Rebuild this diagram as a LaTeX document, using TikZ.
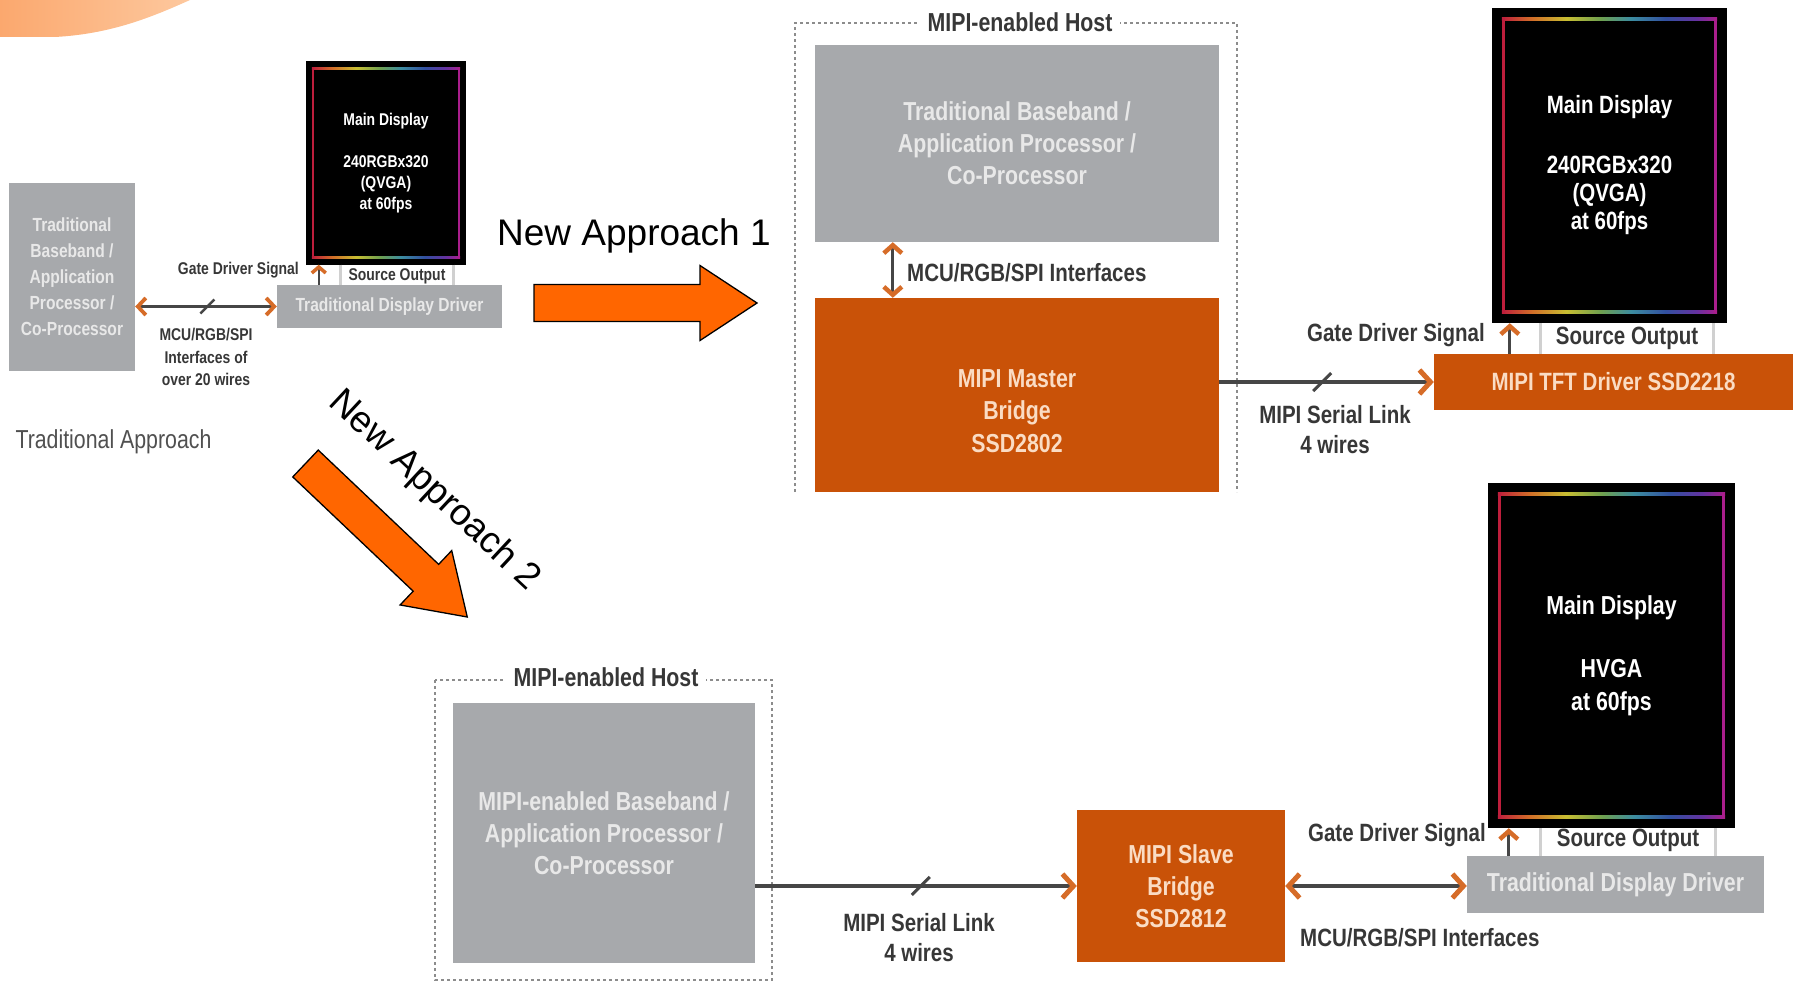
\documentclass[tikz,border=0pt]{standalone}
\usepackage{fontspec}
\setmainfont{Liberation Sans}
\newfontfamily\narrowfont{Liberation Sans}[FakeStretch=0.82]
\usetikzlibrary{arrows.meta}

\definecolor{boxgray}{RGB}{167,169,172}
\definecolor{boxorange}{RGB}{201,82,8}
\definecolor{chevorange}{RGB}{214,108,40}
\definecolor{wiregray}{RGB}{70,70,70}
\definecolor{labelgray}{RGB}{55,55,55}
\definecolor{apprgray}{RGB}{80,80,80}
\definecolor{bigorange}{RGB}{255,102,0}
\definecolor{graytext}{RGB}{232,232,232}
\definecolor{peach}{RGB}{250,220,196}
\definecolor{srcgray}{RGB}{208,208,208}
\definecolor{hostgray}{RGB}{140,140,140}
\definecolor{swooshA}{RGB}{251,168,110}
\definecolor{swooshB}{RGB}{253,200,158}
\definecolor{rbred}{RGB}{190,30,60}
\definecolor{rborange}{RGB}{210,110,40}
\definecolor{rbyellow}{RGB}{200,190,50}
\definecolor{rbgreen}{RGB}{110,160,80}
\definecolor{rbcyan}{RGB}{60,140,160}
\definecolor{rbblue}{RGB}{50,80,160}
\definecolor{rbpurple}{RGB}{100,50,160}
\definecolor{rbmag}{RGB}{170,30,140}

\pgfdeclarehorizontalshading{rainbow}{100bp}{color(0bp)=(rbred); color(25bp)=(rbred); color(32bp)=(rborange); color(40bp)=(rbyellow); color(48bp)=(rbgreen); color(55bp)=(rbcyan); color(63bp)=(rbblue); color(70bp)=(rbpurple); color(75bp)=(rbmag); color(100bp)=(rbmag)}

\tikzset{bigarrow/.pic={
  \draw[fill=bigorange,line width=1.3pt,line join=miter] (0,-18.5) -- (166,-18.5) -- (166,-37.5) -- (223,0) -- (166,37.5) -- (166,18.5) -- (0,18.5) -- cycle;
}}

\begin{document}
\begin{tikzpicture}[x=1pt,y=-1pt,font=\narrowfont\bfseries,
	graybox/.style={rectangle,fill=boxgray,text=graytext,align=center,inner sep=0pt},
	orangebox/.style={rectangle,fill=boxorange,text=peach,align=center,inner sep=0pt},
	display/.style={rectangle,fill=black,text=white,align=center,inner sep=0pt},
	lbl/.style={text=labelgray,align=center,inner sep=1pt},
	hostline/.style={draw=hostgray,line width=1.5pt,dash pattern=on 3pt off 3pt},
	srcbar/.style={draw=srcgray,line width=3pt},
	wire/.style={draw=wiregray,line width=3.5pt},
	thinwire/.style={draw=wiregray,line width=2.5pt},
	slash/.style={draw=wiregray,line width=3pt},
	bigchev/.tip={Straight Barb[length=11pt,width=24pt,line width=5pt,color=chevorange]},
	gatechev/.tip={Straight Barb[length=8pt,width=18pt,line width=4.5pt,color=chevorange]},
	smallchev/.tip={Straight Barb[length=8pt,width=17pt,line width=3.8pt,color=chevorange]},
	tinychev/.tip={Straight Barb[length=6pt,width=14pt,line width=3.5pt,color=chevorange]},
	small/.style={font=\narrowfont\bfseries\fontsize{17}{22.5}\selectfont},
	smallbox/.style={font=\narrowfont\bfseries\fontsize{19}{26}\selectfont},
	big/.style={font=\narrowfont\bfseries\fontsize{25}{30}\selectfont},
	bigbox/.style={font=\narrowfont\bfseries\fontsize{26}{32}\selectfont},
	approach/.style={font=\normalfont\fontsize{37}{40}\selectfont,inner sep=0pt}]

	\useasboundingbox (0,0) rectangle (1796,982);
	\shade[left color=swooshA,right color=swooshB] (0,0) -- (0,37) -- (55,37) .. controls (110,34) and (150,18) .. (190,0) -- cycle;

	% traditional approach
	\node[graybox,smallbox,minimum width=126pt,minimum height=188pt] at (72,277) (tbb) {Traditional\\Baseband /\\Application\\Processor /\\Co-Processor};
	\node[display,font=\narrowfont\bfseries\fontsize{17}{21}\selectfont,minimum width=160pt,minimum height=203pt] at (386,163) (dispa) {Main Display\\[21pt]240RGBx320\\(QVGA)\\at 60fps};
	\node[graybox,smallbox,minimum width=225pt,minimum height=43pt] at (389.5,306.5) (drva) {Traditional Display Driver};
	\node[lbl,small,minimum width=112pt] at (397,276) (srca) {Source Output};
	\node[lbl,small,anchor=east] at (300,270) (gdsa) {Gate Driver Signal};
	\node[lbl,small] at (206,357) (ifla) {MCU/RGB/SPI\\Interfaces of\\over 20 wires};
	\node[text=apprgray,anchor=west,font=\narrowfont\fontsize{26}{30}\selectfont] at (12,442) (trad) {Traditional Approach};

	\draw[srcbar] (srca.west |- dispa.south) -- (srca.west |- drva.north);
	\draw[srcbar] (srca.east |- dispa.south) -- (srca.east |- drva.north);
	\coordinate (gta) at ([xshift=42pt]drva.north west);
	\draw[thinwire,line width=2.5pt,-tinychev] (gta) -- (gta |- dispa.south);
	\draw[thinwire,smallchev-smallchev] (tbb.east |- drva.west) -- coordinate[pos=0.51] (sla) (drva.west);
	\draw[slash,line width=2.5pt] ([shift={(-7,7)}]sla) -- ([shift={(7,-7)}]sla);

	% new approach 1
	\draw[hostline] (795,492) -- (795,23) -- (1237,23) -- (1237,492);
	\node[lbl,fill=white,inner xsep=8pt,bigbox] at (1020,22) (hosta) {MIPI-enabled Host};
	\node[graybox,bigbox,minimum width=404pt,minimum height=197pt] at (1017,143.5) (basea) {Traditional Baseband /\\Application Processor /\\Co-Processor};
	\node[orangebox,minimum width=404pt,minimum height=194pt] at (1017,395) (mstr) {};
	\node[text=peach,align=center,font=\narrowfont\bfseries\fontsize{26}{32.5}\selectfont] at ([shift={(0,16)}]mstr.center) (mstrtxt) {MIPI Master\\Bridge\\SSD2802};
	\node[lbl,big,anchor=west] at (906,273) (iflb) {MCU/RGB/SPI Interfaces};
	\node[display,font=\narrowfont\bfseries\fontsize{25}{28}\selectfont,minimum width=235pt,minimum height=315pt] at (1609.5,165.5) (dispb) {Main Display\\[32pt]240RGBx320\\(QVGA)\\at 60fps};
	\node[orangebox,big,minimum width=359pt,minimum height=56pt] at (1613.5,382) (tft) {MIPI TFT Driver SSD2218};
	\node[lbl,big,minimum width=172pt] at (1627,338) (srcb) {Source Output};
	\node[lbl,big,anchor=east] at (1486,335) (gdsb) {Gate Driver Signal};
	\node[lbl,big] at (1335,430) (serla) {MIPI Serial Link\\4 wires};

	\coordinate (ifb) at ([xshift=78pt]basea.south west);
	\draw[wire,line width=3pt,gatechev-gatechev] (ifb) -- (ifb |- mstr.north);
	\draw[srcbar] (srcb.west |- dispb.south) -- (srcb.west |- tft.north);
	\draw[srcbar] (srcb.east |- dispb.south) -- (srcb.east |- tft.north);
	\coordinate (gtb) at ([xshift=76pt]tft.north west);
	\draw[wire,line width=3pt,-gatechev] (gtb) -- (gtb |- dispb.south);
	\draw[wire,-bigchev] (mstr.east |- tft.west) -- coordinate[pos=0.48] (slb) (tft.west);
	\draw[slash] ([shift={(-9,9)}]slb) -- ([shift={(9,-9)}]slb);

	% new approach 2
	\draw[hostline] (435,680) rectangle (772,980);
	\node[lbl,fill=white,inner xsep=8pt,bigbox] at (606,677) (hostb) {MIPI-enabled Host};
	\node[graybox,bigbox,minimum width=302pt,minimum height=260pt] at (604,833) (baseb) {MIPI-enabled Baseband /\\Application Processor /\\Co-Processor};
	\node[orangebox,bigbox,minimum width=208pt,minimum height=152pt] at (1181,886) (slave) {MIPI Slave\\Bridge\\SSD2812};
	\node[display,font=\narrowfont\bfseries\fontsize{26}{33}\selectfont,minimum width=247pt,minimum height=345pt] at (1611.5,655.5) (dispc) {Main Display\\[30pt]HVGA\\at 60fps};
	\node[graybox,bigbox,minimum width=297pt,minimum height=57pt] at (1615.5,884.5) (drvc) {Traditional Display Driver};
	\node[lbl,big,minimum width=174pt] at (1628,840) (srcc) {Source Output};
	\node[lbl,big,anchor=east] at (1487,835) (gdsc) {Gate Driver Signal};
	\node[lbl,big] at (919,938) (serlb) {MIPI Serial Link\\4 wires};
	\node[lbl,big,anchor=west] at (1299,938) (iflc) {MCU/RGB/SPI Interfaces};

	\draw[srcbar] (srcc.west |- dispc.south) -- (srcc.west |- drvc.north);
	\draw[srcbar] (srcc.east |- dispc.south) -- (srcc.east |- drvc.north);
	\coordinate (gtc) at ([xshift=42pt]drvc.north west);
	\draw[wire,line width=3pt,-gatechev] (gtc) -- (gtc |- dispc.south);
	\draw[wire,-bigchev] (baseb.east |- slave.west) -- coordinate[pos=0.515] (slc) (slave.west);
	\draw[slash] ([shift={(-9,9)}]slc) -- ([shift={(9,-9)}]slc);
	\draw[wire,bigchev-bigchev] (slave.east) -- (slave.east -| drvc.west);

	% rainbow edges of the displays
	\foreach \d/\k/\w in {dispa/6/2,dispb/10/3,dispc/10/3} {
		\shade[shading=rainbow] ([shift={(\k,\k)}]\d.north west) rectangle ([shift={(-\k,\k+\w)}]\d.north east);
		\shade[shading=rainbow] ([shift={(\k,-\k-\w)}]\d.south west) rectangle ([shift={(-\k,-\k)}]\d.south east);
		\fill[rbred] ([shift={(\k,\k)}]\d.north west) rectangle ([shift={(\k+\w,-\k)}]\d.south west);
		\fill[rbmag] ([shift={(-\k-\w,\k)}]\d.north east) rectangle ([shift={(-\k,-\k)}]\d.south east);
	}

	% big arrows
	\pic at (534,303) {bigarrow};
	\node[approach,anchor=west] at (497,236) (napa) {New Approach 1};
	\pic[rotate=-43.5] at (305.5,463.5) {bigarrow};
	\node[approach,rotate=-43] at (434,491) (napb) {New Approach 2};

\end{tikzpicture}
\end{document}
